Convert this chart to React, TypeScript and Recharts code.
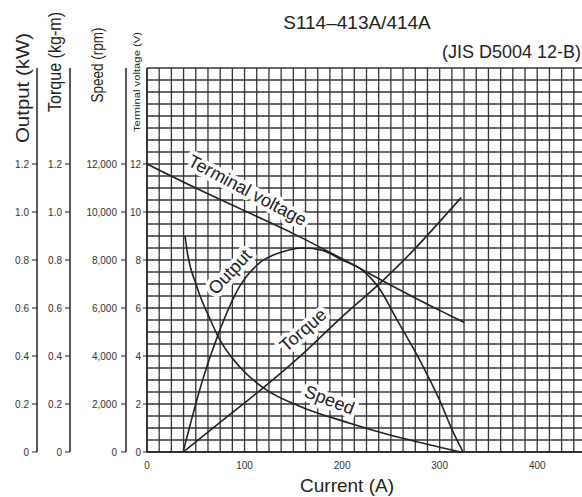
import React from 'react';
import { LineChart, Line, XAxis, YAxis, CartesianGrid, ReferenceDot } from 'recharts';

// tick labels
const currentTicks = [0, 100, 200, 300, 400];
const voltageTicks = [0, 2, 4, 6, 8, 10, 12];
const speedTicks = [0, 2000, 4000, 6000, 8000, 10000, 12000];
const torqueTicks = [0, 0.2, 0.4, 0.6, 0.8, 1.0, 1.2];
const outputTicks = [0, 0.2, 0.4, 0.6, 0.8, 1.0, 1.2];

// series (current in A)
const terminalVoltage = [
    { current: 0, value: 12.0 },
    { current: 50, value: 11.0 },
    { current: 100, value: 10.05 },
    { current: 150, value: 9.1 },
    { current: 200, value: 8.05 },
    { current: 250, value: 6.95 },
    { current: 300, value: 5.9 },
    { current: 325, value: 5.4 },
];
const speed = [
    { current: 39, value: 9000 },
    { current: 41, value: 8400 },
    { current: 51, value: 6900 },
    { current: 65, value: 5500 },
    { current: 73, value: 4800 },
    { current: 95, value: 3550 },
    { current: 120, value: 2650 },
    { current: 157, value: 1900 },
    { current: 208, value: 1200 },
    { current: 259, value: 600 },
    { current: 300, value: 200 },
    { current: 322, value: 0 },
];
const torque = [
    { current: 37, value: 0 },
    { current: 80, value: 0.14 },
    { current: 119, value: 0.267 },
    { current: 160, value: 0.41 },
    { current: 199, value: 0.56 },
    { current: 242, value: 0.715 },
    { current: 273, value: 0.84 },
    { current: 300, value: 0.96 },
    { current: 322, value: 1.06 },
];
const output = [
    { current: 37, value: 0 },
    { current: 45, value: 0.125 },
    { current: 57, value: 0.3 },
    { current: 73, value: 0.49 },
    { current: 95, value: 0.69 },
    { current: 116, value: 0.79 },
    { current: 136, value: 0.83 },
    { current: 160, value: 0.85 },
    { current: 180, value: 0.84 },
    { current: 200, value: 0.8 },
    { current: 220, value: 0.76 },
    { current: 240, value: 0.67 },
    { current: 255, value: 0.56 },
    { current: 280, value: 0.38 },
    { current: 300, value: 0.215 },
    { current: 313, value: 0.09 },
    { current: 324, value: 0 },
];

const CURRENT_MAX = 450;
const VOLTAGE_MAX = 16;

// fine grid: 12.5 A by 0.5 V
const gridCurrent = Array.from({ length: 37 }, (_, i) => i * 12.5);
const gridVoltage = Array.from({ length: 33 }, (_, i) => i * 0.5);

const FONT = '"Liberation Sans", Arial, sans-serif';
const INK = '#222';

// left axes are stacked in id order, innermost first
const VOLT = 'a_volt';
const SPEED = 'b_speed';
const TORQUE = 'c_torque';
const OUTPUT = 'd_output';

const tickStyle = { fontSize: 10, fill: '#333', fontFamily: FONT };

const axisTitle = (text: string, dx: number, dy: number, size: number, len: number) =>
    (props: any) => {
        const vb = props.viewBox || { x: 0, y: 0 };
        const x = vb.x + dx;
        const y = vb.y + dy;
        return (
            <text x={x} y={y} transform={`rotate(-90 ${x} ${y})`} textAnchor="middle"
                dominantBaseline="central" fontSize={size} fontFamily={FONT} fill={INK}
                textLength={len} lengthAdjust="spacingAndGlyphs">{text}</text>
        );
    };

const curveLabel = (text: string, angle: number) => (props: any) => {
    const { cx, cy } = props;
    return (
        <g transform={`translate(${cx},${cy}) rotate(${angle})`}>
            <text textAnchor="middle" dominantBaseline="central" fontSize={18} fontFamily={FONT}
                fill={INK} stroke="#fff" strokeWidth={8} paintOrder="stroke"
                strokeLinejoin="round">{text}</text>
        </g>
    );
};

const fmtNum = (v: number) => (v === 0 ? '0' : v.toFixed(1));
const fmtRpm = (v: number) => (v === 0 ? '0' : v.toLocaleString('en-US'));

// grid lines at fixed data steps, placed inside the plot area
const gridX = ({ offset }: any) =>
    gridCurrent.map(v => offset.left + (v / CURRENT_MAX) * offset.width);
const gridY = ({ offset }: any) =>
    gridVoltage.map(v => offset.top + offset.height - (v / VOLTAGE_MAX) * offset.height);

export default function App() {
    return (
        <div style={{ position: 'absolute', left: 0, top: 0, width: 582, height: 497, overflow: 'hidden', background: '#fff' }}>
            <LineChart width={600} height={497} margin={{ top: 68, right: 14, bottom: 15, left: 0 }}>
                <CartesianGrid xAxisId="i" yAxisId={VOLT} verticalCoordinatesGenerator={gridX}
                    horizontalCoordinatesGenerator={gridY} stroke="#333" strokeWidth={1.3} />
                <XAxis xAxisId="i" dataKey="current" type="number" domain={[0, CURRENT_MAX]} ticks={currentTicks}
                    allowDataOverflow tickLine={false} axisLine={{ stroke: INK, strokeWidth: 1.5 }}
                    tick={tickStyle} tickMargin={4} height={30} />
                <YAxis yAxisId={VOLT} type="number" domain={[0, VOLTAGE_MAX]} ticks={voltageTicks} width={21}
                    tickSize={4} tickMargin={2} tick={tickStyle} axisLine={{ stroke: INK, strokeWidth: 1.5 }}
                    tickLine={{ stroke: INK }} label={{ content: axisTitle('Terminal voltage (V)', 11, 14, 9, 100) }} />
                <YAxis yAxisId={SPEED} type="number" domain={[0, 16000]} ticks={speedTicks} width={56}
                    tickSize={5} tickMargin={4} tick={tickStyle} tickFormatter={fmtRpm}
                    axisLine={{ stroke: INK, strokeWidth: 1.5 }} tickLine={{ stroke: INK }}
                    label={{ content: axisTitle('Speed (rpm)', 27, -3, 17, 75) }} />
                <YAxis yAxisId={TORQUE} type="number" domain={[0, 1.6]} ticks={torqueTicks} width={33}
                    tickSize={5} tickMargin={3} tick={tickStyle} tickFormatter={fmtNum}
                    axisLine={{ stroke: INK, strokeWidth: 1.5 }} tickLine={{ stroke: INK }}
                    label={{ content: axisTitle('Torque (kg-m)', 18, -6, 18, 100) }} />
                <YAxis yAxisId={OUTPUT} type="number" domain={[0, 1.6]} ticks={outputTicks} width={37}
                    tickSize={5} tickMargin={3} tick={tickStyle} tickFormatter={fmtNum}
                    axisLine={{ stroke: INK, strokeWidth: 1.5 }} tickLine={{ stroke: INK }}
                    label={{ content: axisTitle('Output (kW)', 22, 20, 19, 110) }} />

                <Line xAxisId="i" yAxisId={VOLT} data={terminalVoltage} dataKey="value" type="monotone"
                    stroke={INK} strokeWidth={1.6} dot={false} isAnimationActive={false} />
                <Line xAxisId="i" yAxisId={SPEED} data={speed} dataKey="value" type="monotone"
                    stroke={INK} strokeWidth={1.6} dot={false} isAnimationActive={false} />
                <Line xAxisId="i" yAxisId={TORQUE} data={torque} dataKey="value" type="monotone"
                    stroke={INK} strokeWidth={1.6} dot={false} isAnimationActive={false} />
                <Line xAxisId="i" yAxisId={OUTPUT} data={output} dataKey="value" type="monotone"
                    stroke={INK} strokeWidth={1.6} dot={false} isAnimationActive={false} />

                <ReferenceDot xAxisId="i" yAxisId={VOLT} x={103} y={10.9} r={0} shape={curveLabel('Terminal voltage', 28)} />
                <ReferenceDot xAxisId="i" yAxisId={VOLT} x={85} y={7.5} r={0} shape={curveLabel('Output', -47)} />
                <ReferenceDot xAxisId="i" yAxisId={VOLT} x={160} y={5.08} r={0} shape={curveLabel('Torque', -41)} />
                <ReferenceDot xAxisId="i" yAxisId={VOLT} x={187} y={2.17} r={0} shape={curveLabel('Speed', 21)} />
            </LineChart>
            <svg width={582} height={497} style={{ position: 'absolute', left: 0, top: 0, pointerEvents: 'none' }}>
                <text x={357} y={29} textAnchor="middle" fontSize={19} fontFamily={FONT} fill={INK}>S114–413A/414A</text>
                <text x={581} y={58} textAnchor="end" fontSize={18} fontFamily={FONT} fill={INK}>(JIS D5004 12-B)</text>
                <text x={347} y={492} textAnchor="middle" fontSize={19} fontFamily={FONT} fill={INK}>Current (A)</text>
            </svg>
        </div>
    );
}
